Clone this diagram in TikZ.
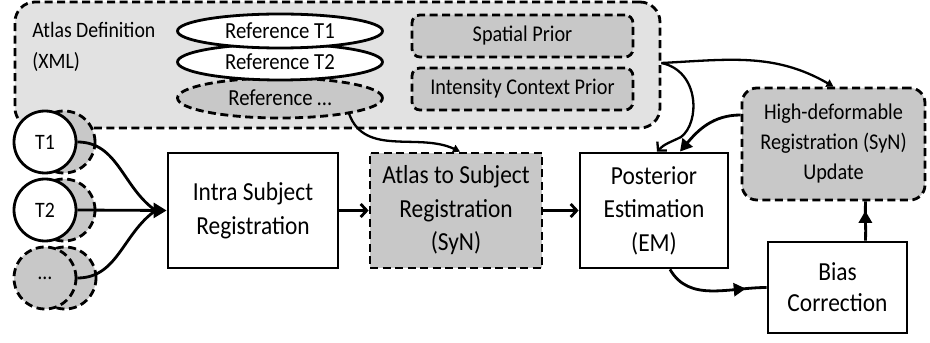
\documentclass[tikz,border=0pt]{standalone}
\usepackage{fontspec}
\setmainfont{Carlito}[FakeStretch=0.9]
\usetikzlibrary{shapes.geometric,arrows.meta,decorations.markings,calc}
\definecolor{atlasfill}{RGB}{226,226,226}
\definecolor{itemfill}{RGB}{200,200,200}
\tikzset{
  dashline/.style={dash pattern=on 8pt off 4.5pt},
  reffont/.style={font=\fontsize{23}{26}\selectfont},
  mainfont/.style={font=\fontsize{26}{33.5}\selectfont},
  refell/.style={ellipse, draw, reffont, minimum width=205pt, inner sep=0pt},
  prior/.style={draw, dashline, fill=itemfill, rounded corners=8pt,
    minimum width=221pt, minimum height=42pt, inner sep=0pt,
    font=\fontsize{22.5}{26}\selectfont},
  scan/.style={circle, draw, minimum size=62pt, inner sep=0pt,
    font=\fontsize{22}{26}\selectfont},
  scanback/.style={circle, draw, dashline, fill=itemfill, minimum size=62pt, inner sep=0pt},
  proc/.style={draw, fill=white, align=center, inner sep=0pt, mainfont},
  procgray/.style={proc, dashline, fill=itemfill},
  bigtip/.style={-{Triangle[length=13pt,width=15pt]}},
  smalltip/.style={-{Triangle[length=7pt,width=8pt]}},
  barbtip/.style={-{Straight Barb[length=6pt,width=13pt]}},
  midtip/.style={postaction={decorate, decoration={markings,
    mark=at position #1 with {\arrow{Triangle[length=12pt,width=13pt]}}}}}
}
\begin{document}
\begin{tikzpicture}[x=1pt, y=1pt, line width=2.8pt]
\useasboundingbox (0,0) rectangle (930,343);

% atlas definition container
\node[draw, dashline, fill=atlasfill, rounded corners=20pt,
  minimum width=645pt, minimum height=126pt] (atlas) at (337.5,278) {};
\node[anchor=west, align=left, inner sep=0pt, font=\fontsize{22}{31}\selectfont]
  (atlaslabel) at (31,296) {Atlas Definition\\(XML)};

% reference templates
\node[refell, minimum height=40pt, fill=itemfill, dashline] (refdots) at (280,245) {Reference …};
\node[refell, minimum height=36pt, fill=white] (reft2) at (280,281) {Reference T2};
\node[refell, minimum height=34pt, fill=white] (reft1) at (280,312) {Reference T1};

% priors
\node[prior] (spatial) at (522.5,307) {Spatial Prior};
\node[prior] (intensity) at (522.5,254) {Intensity Context Prior};

% input scans
\node[scanback] (t1b) at (64,201) {};
\node[scan, fill=white] (t1) at (45,201) {T1};
\node[scanback] (t2b) at (64,133) {};
\node[scan, fill=white] (t2) at (45,133) {T2};
\node[scanback] (t3b) at (65,65) {};
\node[scan, dashline, fill=itemfill] (t3) at (45,65) {…};

% processing steps
\node[proc, minimum width=170pt, minimum height=115pt] (intra) at (253,132.5)
  {Intra Subject\\Registration};
\node[procgray, minimum width=172pt, minimum height=115pt] (a2s) at (456,132.5)
  {Atlas to Subject\\Registration\\(SyN)};
\node[proc, minimum width=148pt, minimum height=115pt] (post) at (654,132.5)
  {Posterior\\Estimation\\(EM)};
\node[procgray, rounded corners=15pt, minimum width=183pt, minimum height=112pt,
  font=\fontsize{22.5}{30}\selectfont] (highdef) at (833.5,199)
  {High-deformable\\Registration (SyN)\\Update};
\node[proc, minimum width=139pt, minimum height=91pt, font=\fontsize{26}{31}\selectfont]
  (bias) at (837.5,55.5) {Bias\\Correction};

% connectors: the three scans merge into one arrow head
\coordinate (merge) at ([xshift=-11pt]intra.west);
\draw (t1.east) to[out=0, in=145] (merge);
\draw (t3.east) to[out=0, in=215] (merge);
\draw[bigtip] (t2.east) -- (intra.west);
\draw[barbtip] (intra.east) -- (a2s.west);
\draw[barbtip] (a2s.east) -- (post.west);
\draw[smalltip, line width=2.3pt] (refdots.-13) to[out=-70, in=155] ([xshift=4pt]a2s.north);
\coordinate (atlasout) at ([yshift=2pt]atlas.east);
\draw[smalltip, line width=2.3pt] (atlasout) to[out=3, in=150] (highdef.north);
\draw[barbtip, line width=2.3pt] (atlasout) .. controls (700,272) and (700,220) .. (681,206)
  .. controls (671,201) and (664,199) .. ([xshift=3pt]post.north);
\draw[-{Triangle[length=12pt,width=13pt]}] ([yshift=29pt]highdef.west)
  to[out=180, in=50] ([xshift=26pt]post.north);
\draw[midtip=0.8] ([xshift=16pt]post.south) to[out=-60, in=180] (bias.west);
\draw[midtip=0.76] ([xshift=28pt]bias.north) to[out=88, in=-92] ([xshift=32pt]highdef.south);
\end{tikzpicture}
\end{document}
